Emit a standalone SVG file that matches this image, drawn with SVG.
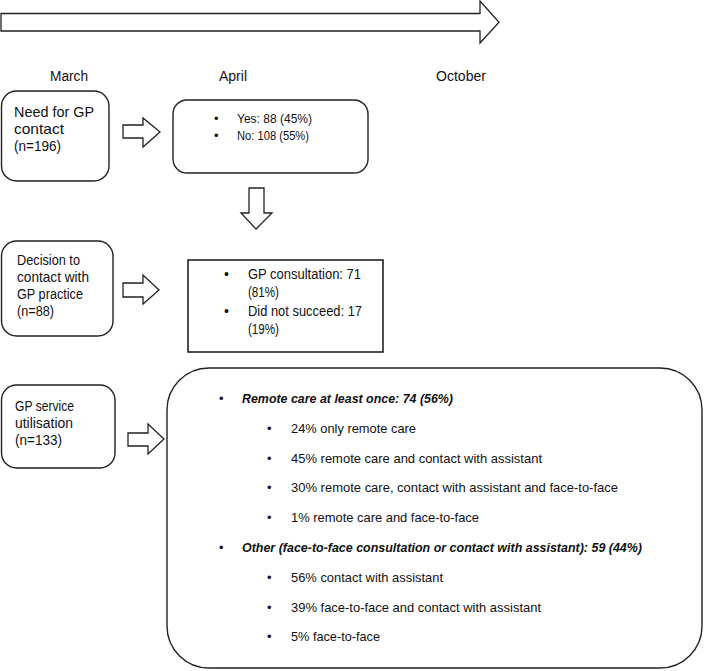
<svg xmlns="http://www.w3.org/2000/svg" width="709" height="671" viewBox="0 0 709 671">
<style>
.box{fill:#fff;stroke:#222;stroke-width:1.4}
.arr{fill:#fff;stroke:#222;stroke-width:1.3;stroke-linejoin:miter}
text{font-family:"Liberation Sans",Arial,sans-serif;fill:#111}
.lab{font-size:14px}
.b1{font-size:15px}
.b2{font-size:13px}
.b3{font-size:14px}
.b4{font-size:14px}
.b6{font-size:13px}
.bi{font-weight:bold;font-style:italic}
</style>
<rect width="709" height="671" fill="#fff"/>
<g id="timeline">
<polygon class="arr" points="1,13.5 480,13.5 480,1 499,22.3 480,43 480,31 1,31"/>
<text class="lab" x="50" y="81" textLength="38" lengthAdjust="spacingAndGlyphs">March</text>
<text class="lab" x="219" y="81" textLength="28" lengthAdjust="spacingAndGlyphs">April</text>
<text class="lab" x="436" y="81" textLength="50" lengthAdjust="spacingAndGlyphs">October</text>
</g>
<g id="need">
<rect class="box" x="1.5" y="91" width="107.5" height="90" rx="15"/>
<text class="b1" x="14" y="117" textLength="80" lengthAdjust="spacingAndGlyphs">Need for GP</text>
<text class="b1" x="14" y="134" textLength="50" lengthAdjust="spacingAndGlyphs">contact</text>
<text class="b1" x="14" y="151" textLength="47" lengthAdjust="spacingAndGlyphs">(n=196)</text>
</g>
<g id="need-result">
<rect class="box" x="173" y="100" width="195" height="73" rx="14"/>
<text class="b2" x="214" y="123">•</text>
<text class="b2" x="237" y="123" textLength="75" lengthAdjust="spacingAndGlyphs">Yes: 88 (45%)</text>
<text class="b2" x="214" y="140">•</text>
<text class="b2" x="237" y="140" textLength="72" lengthAdjust="spacingAndGlyphs">No: 108 (55%)</text>
</g>
<g id="decision">
<rect class="box" x="1.5" y="241" width="111.5" height="95" rx="15"/>
<text class="b3" x="17" y="265" textLength="63" lengthAdjust="spacingAndGlyphs">Decision to</text>
<text class="b3" x="17" y="282" textLength="72" lengthAdjust="spacingAndGlyphs">contact with</text>
<text class="b3" x="17" y="299" textLength="66" lengthAdjust="spacingAndGlyphs">GP practice</text>
<text class="b3" x="17" y="316" textLength="37" lengthAdjust="spacingAndGlyphs">(n=88)</text>
</g>
<g id="decision-result">
<rect class="box" x="188" y="260" width="195" height="92" style="stroke-width:1.6"/>
<text class="b4" x="224" y="279">•</text>
<text class="b4" x="248" y="279" textLength="113" lengthAdjust="spacingAndGlyphs">GP consultation: 71</text>
<text class="b4" x="248" y="297" textLength="31" lengthAdjust="spacingAndGlyphs">(81%)</text>
<text class="b4" x="224" y="316">•</text>
<text class="b4" x="248" y="316" textLength="114" lengthAdjust="spacingAndGlyphs">Did not succeed: 17</text>
<text class="b4" x="248" y="334" textLength="31" lengthAdjust="spacingAndGlyphs">(19%)</text>
</g>
<g id="utilisation">
<rect class="box" x="1.5" y="385" width="113.5" height="83" rx="15"/>
<text class="b3" x="15" y="411" textLength="59" lengthAdjust="spacingAndGlyphs">GP service</text>
<text class="b3" x="15" y="428" textLength="58" lengthAdjust="spacingAndGlyphs">utilisation</text>
<text class="b3" x="15" y="445" textLength="47" lengthAdjust="spacingAndGlyphs">(n=133)</text>
</g>
<g id="utilisation-result">
<rect class="box" x="167" y="368" width="535" height="300" rx="42"/>
<text class="b6" x="219" y="403">•</text>
<text class="b6 bi" x="242" y="403" textLength="211" lengthAdjust="spacingAndGlyphs">Remote care at least once: 74 (56%)</text>
<text class="b6" x="267" y="433">•</text>
<text class="b6" x="291" y="433" textLength="125" lengthAdjust="spacingAndGlyphs">24% only remote care</text>
<text class="b6" x="267" y="462.5">•</text>
<text class="b6" x="291" y="462.5" textLength="251" lengthAdjust="spacingAndGlyphs">45% remote care and contact with assistant</text>
<text class="b6" x="267" y="492">•</text>
<text class="b6" x="291" y="492" textLength="327" lengthAdjust="spacingAndGlyphs">30% remote care, contact with assistant and face-to-face</text>
<text class="b6" x="267" y="522">•</text>
<text class="b6" x="291" y="522" textLength="188" lengthAdjust="spacingAndGlyphs">1% remote care and face-to-face</text>
<text class="b6" x="219" y="552">•</text>
<text class="b6 bi" x="242" y="552" textLength="400" lengthAdjust="spacingAndGlyphs">Other (face-to-face consultation or contact with assistant): 59 (44%)</text>
<text class="b6" x="267" y="582">•</text>
<text class="b6" x="291" y="582" textLength="152" lengthAdjust="spacingAndGlyphs">56% contact with assistant</text>
<text class="b6" x="267" y="611.5">•</text>
<text class="b6" x="291" y="611.5" textLength="250" lengthAdjust="spacingAndGlyphs">39% face-to-face and contact with assistant</text>
<text class="b6" x="267" y="641">•</text>
<text class="b6" x="291" y="641" textLength="89" lengthAdjust="spacingAndGlyphs">5% face-to-face</text>
</g>
<g id="connectors">
<polygon class="arr" points="123,125 143,125 143,118 160,132 143,147 143,138 123,138"/>
<polygon class="arr" points="249,188 264,188 264,213 272,213 256,229 241,213 249,213"/>
<polygon class="arr" points="123,283 143,283 143,275 159,290 143,304 143,297 123,297"/>
<polygon class="arr" points="128,433 148,433 148,424 164,439 148,454 148,446 128,446"/>
</g>
</svg>
